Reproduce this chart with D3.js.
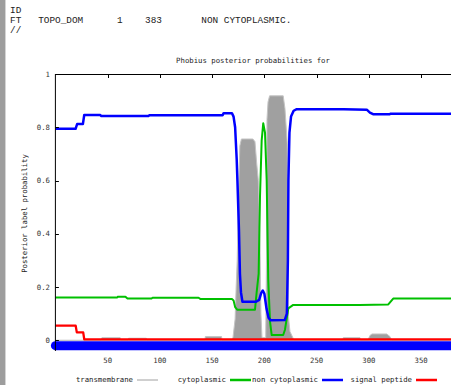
<!DOCTYPE html>
<html>
<head>
<meta charset="utf-8">
<script src="https://cdn.jsdelivr.net/npm/d3@7"></script>
<style>
  body { margin: 0; background: #fff; }
  svg text { font-family: "DejaVu Sans Mono", monospace; }
</style>
</head>
<body>
<div id="chart"></div>
<script>
// Phobius text output header
const headerLines = [
  'ID',
  'FT   TOPO_DOM      1    383       NON CYTOPLASMIC.',
  '//'
]

// posterior probabilities, [residue, probability]
const transmembrane = [
  [0, 0], [44, 0], [44.5, 0.01], [62, 0.01], [62.5, 0], [69.5, 0], [70, 0.008], [87, 0.008], [87.5, 0],
  [143, 0], [143.5, 0.014], [159, 0.014], [159.5, 0], [169, 0], [170, 0.012], [172, 0.08], [173, 0.2],
  [174, 0.3], [175, 0.5], [176.5, 0.73], [178, 0.756], [189, 0.756], [191, 0.746], [192.6, 0.666],
  [194.2, 0.6], [195.8, 0.35], [196.7, 0.1], [197.7, 0.01], [201.3, 0.01], [202, 0.3], [202.5, 0.83],
  [203.5, 0.895], [205, 0.918], [218, 0.918], [219.7, 0.87], [221.9, 0.74], [222.6, 0.3], [223, 0.09],
  [224.5, 0.033], [227.5, 0.008], [228, 0], [275, 0], [275.5, 0.01], [291.5, 0.01], [292, 0],
  [299, 0], [301, 0.018], [303, 0.024], [317, 0.024], [320, 0.015], [322, 0], [383, 0]
]
const cytoplasmic = [
  [0, 0.161], [59, 0.161], [60, 0.164], [67, 0.164], [69, 0.157], [92, 0.157], [93, 0.16],
  [137, 0.16], [139, 0.155], [169, 0.155], [170.5, 0.15], [172, 0.125], [174, 0.115], [191, 0.115],
  [192.6, 0.18], [194.5, 0.25], [195.8, 0.54], [197.4, 0.75], [198.9, 0.815], [200.6, 0.78],
  [202.2, 0.6], [203.7, 0.227], [205.4, 0.07], [207, 0.02], [218, 0.02], [219.7, 0.04],
  [222.9, 0.12], [227.6, 0.133], [291, 0.133], [318.6, 0.135], [323.3, 0.157], [383, 0.157]
]
const nonCytoplasmic = [
  [0, 0.794], [19.3, 0.794], [20.8, 0.812], [26.3, 0.812], [27.6, 0.846], [43, 0.846], [44, 0.842],
  [89, 0.842], [90, 0.845], [160, 0.845], [161, 0.853], [169, 0.853], [170.5, 0.84], [172, 0.8],
  [173.5, 0.68], [174.2, 0.6], [175.7, 0.41], [176.6, 0.25], [177.6, 0.18], [179, 0.145],
  [192, 0.145], [195, 0.152], [197, 0.178], [198.5, 0.187], [200, 0.175], [202, 0.12],
  [204, 0.085], [206, 0.075], [219.5, 0.076], [221.5, 0.1], [222.5, 0.3], [223, 0.6],
  [224, 0.78], [225.5, 0.84], [228, 0.862], [231, 0.868], [276, 0.868], [298, 0.866],
  [301, 0.855], [304, 0.849], [320, 0.849], [321, 0.851], [383, 0.851]
]
const signalPeptide = [
  [0, 0.055], [19.4, 0.055], [20.5, 0.03], [26.6, 0.03], [27.6, 0.004], [383, 0.004]
]
// predicted topology segments: [start, end]
const topology = [[1, 383]]

const xTicks = [50, 100, 150, 200, 250, 300, 350]
const yTicks = [0, 0.2, 0.4, 0.6, 0.8, 1]
const legendItems = ['transmembrane', 'cytoplasmic', 'non cytoplasmic', 'signal peptide']
const legendColors = ['#a0a0a0', '#00c000', '#0000ff', '#ff0000']

const width = 451
const height = 385
const plot = { left: 55.4, right: 455.6, top: 74, bottom: 351 }

let svg = d3.select('#chart').append('svg')
  .attr('width', width)
  .attr('height', height)

// left window edge strip
svg.append('rect').attr('x', 0).attr('y', 0).attr('width', 5).attr('height', height).attr('fill', '#9d9d9d')
svg.append('line').attr('x1', 5.5).attr('x2', 5.5).attr('y1', 0).attr('y2', height).attr('stroke', '#d4d4d4')

svg.append('g').selectAll('text')
  .data(headerLines)
  .enter()
  .append('text')
  .attr('x', 10)
  .attr('y', function (d, i) { return 12.5 + i * 10 })
  .style('white-space', 'pre')
  .style('font-family', '"Liberation Mono", monospace')
  .style('font-size', '9.4px')
  .attr('fill', '#222')
  .text(function (d) { return d })

let x = d3.scaleLinear().domain([0, 383]).range([plot.left, plot.right])
let y = d3.scaleLinear().domain([-0.04, 1]).range([plot.bottom, plot.top])

let g = svg.append('g')

// transmembrane area
g.append('path')
  .datum(transmembrane)
  .attr('fill', '#a0a0a0')
  .attr('stroke', '#c4c4c4')
  .attr('stroke-width', 1)
  .attr('d', d3.area()
    .x(function (d) { return x(d[0]) })
    .y0(y(0))
    .y1(function (d) { return y(d[1]) }))

// topology band
g.selectAll('.topo')
  .data(topology)
  .enter()
  .append('line')
  .attr('class', 'topo')
  .attr('x1', function (d) { return x(d[0] - 1) })
  .attr('x2', function (d) { return x(d[1]) })
  .attr('y1', y(-0.02))
  .attr('y2', y(-0.02))
  .attr('stroke', '#0000ff')
  .attr('stroke-width', 9)
  .attr('stroke-linecap', 'round')

let line = d3.line()
  .x(function (d) { return x(d[0]) })
  .y(function (d) { return y(d[1]) })

let series = [
  { data: cytoplasmic, color: '#00c000', w: 2 },
  { data: nonCytoplasmic, color: '#0000ff', w: 2.5 },
  { data: signalPeptide, color: '#ff0000', w: 2.3 }
]
g.selectAll('.series')
  .data(series)
  .enter()
  .append('path')
  .attr('class', 'series')
  .attr('fill', 'none')
  .attr('stroke', function (d) { return d.color })
  .attr('stroke-width', function (d) { return d.w })
  .attr('stroke-linejoin', 'round')
  .attr('d', function (d) { return line(d.data) })

// borders
svg.append('line').attr('x1', plot.left).attr('x2', width).attr('y1', plot.top + 0.5).attr('y2', plot.top + 0.5).attr('stroke', '#000')
svg.append('line').attr('x1', plot.left).attr('x2', plot.left).attr('y1', plot.top).attr('y2', plot.bottom).attr('stroke', '#000')

// top ticks
svg.append('g').selectAll('line')
  .data(xTicks)
  .enter()
  .append('line')
  .attr('x1', function (d) { return Math.round(x(d)) + 0.5 })
  .attr('x2', function (d) { return Math.round(x(d)) + 0.5 })
  .attr('y1', plot.top)
  .attr('y2', plot.top + 4)
  .attr('stroke', '#000')

// y ticks
svg.append('g').selectAll('line')
  .data(yTicks)
  .enter()
  .append('line')
  .attr('x1', plot.left)
  .attr('x2', plot.left + 3.5)
  .attr('y1', function (d) { return Math.round(y(d)) + 0.5 })
  .attr('y2', function (d) { return Math.round(y(d)) + 0.5 })
  .attr('stroke', '#000')

let labelFont = '7.3px'
svg.append('g').selectAll('text')
  .data(yTicks)
  .enter()
  .append('text')
  .attr('x', 50)
  .attr('y', function (d) { return y(d) + 2.5 })
  .attr('text-anchor', 'end')
  .style('font-size', labelFont)
  .attr('fill', '#333')
  .text(function (d) { return d3.format('~g')(d) })

svg.append('g').selectAll('text')
  .data(xTicks)
  .enter()
  .append('text')
  .attr('x', function (d) { return x(d) })
  .attr('y', 363)
  .attr('text-anchor', 'middle')
  .style('font-size', labelFont)
  .attr('fill', '#333')
  .text(function (d) { return d })

svg.append('text')
  .attr('x', 253)
  .attr('y', 62.5)
  .attr('text-anchor', 'middle')
  .style('font-size', labelFont)
  .attr('fill', '#222')
  .text('Phobius posterior probabilities for')

svg.append('text')
  .attr('transform', 'translate(27,213.5) rotate(-90)')
  .attr('text-anchor', 'middle')
  .style('font-size', labelFont)
  .attr('fill', '#222')
  .text('Posterior label probability')

// legend
let legendTextEnd = [133, 226, 318, 412]
let legend = svg.append('g').selectAll('g')
  .data(legendItems)
  .enter()
  .append('g')
legend.append('text')
  .attr('x', function (d, i) { return legendTextEnd[i] })
  .attr('y', 382)
  .attr('text-anchor', 'end')
  .style('font-size', labelFont)
  .attr('fill', '#222')
  .text(function (d) { return d })
legend.append('line')
  .attr('x1', function (d, i) { return legendTextEnd[i] + 4 })
  .attr('x2', function (d, i) { return legendTextEnd[i] + 25 })
  .attr('y1', 380)
  .attr('y2', 380)
  .attr('stroke', function (d, i) { return legendColors[i] })
  .attr('stroke-width', function (d, i) { return i === 0 ? 1 : 2.5 })
</script>
</body>
</html>
